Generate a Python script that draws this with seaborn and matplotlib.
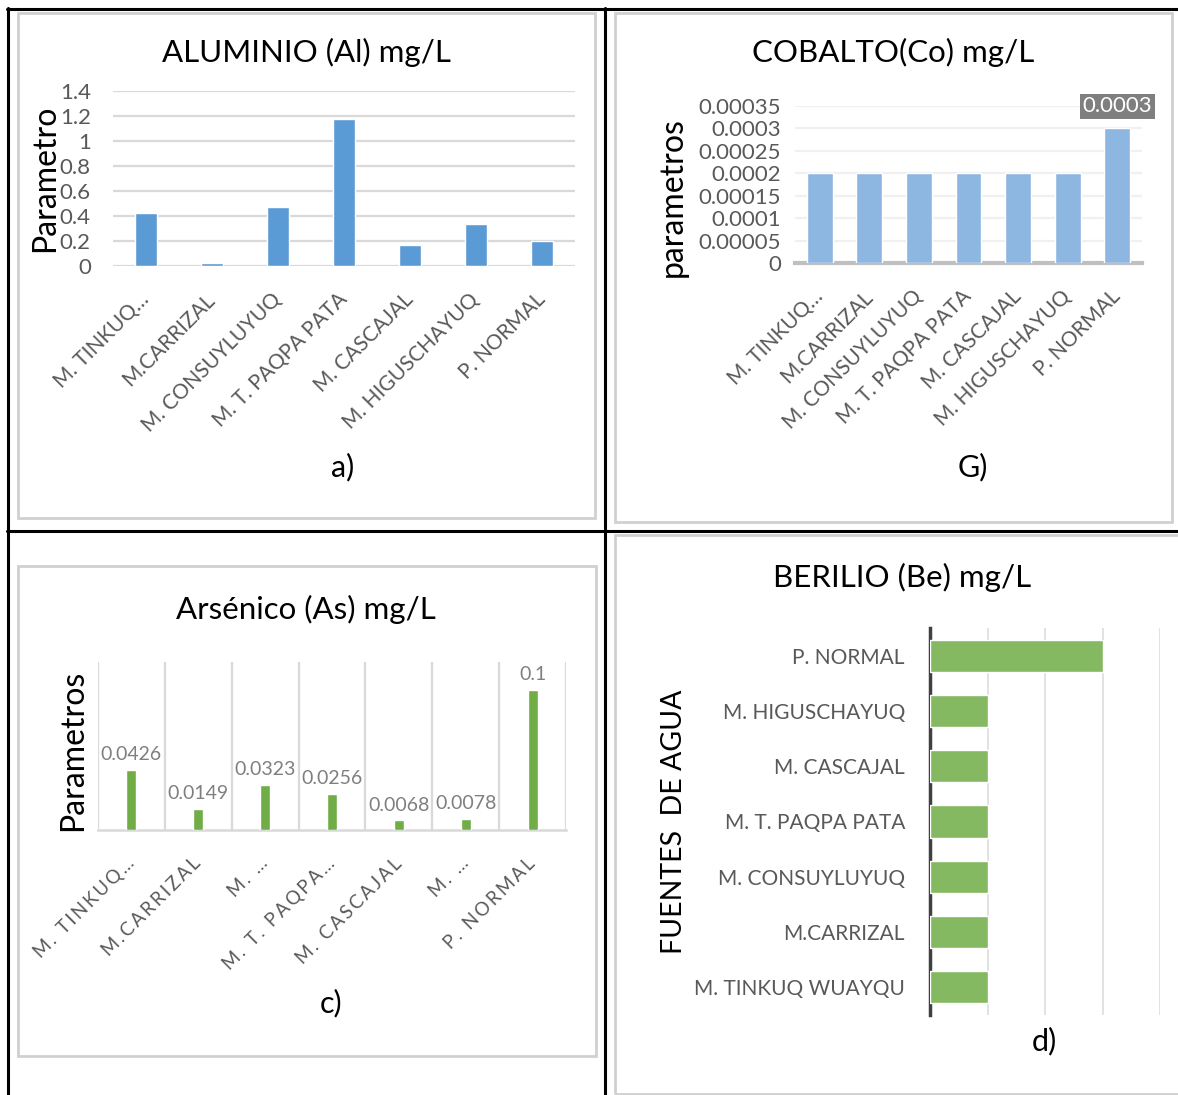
import matplotlib
matplotlib.use("Agg")
import matplotlib.pyplot as plt
from matplotlib.patches import Rectangle
from matplotlib.lines import Line2D
import seaborn as sns
import pandas as pd

# ---- data ----
sources_full = ["M. TINKUQ WUAYQU", "M.CARRIZAL", "M. CONSUYLUYUQ", "M. T. PAQPA PATA",
                "M. CASCAJAL", "M. HIGUSCHAYUQ", "P. NORMAL"]
labels_al_co = ["M. TINKUQ…", "M.CARRIZAL", "M. CONSUYLUYUQ", "M. T. PAQPA PATA",
                "M. CASCAJAL", "M. HIGUSCHAYUQ", "P. NORMAL"]
labels_as = ["M. TINKUQ…", "M.CARRIZAL", "M. …", "M. T. PAQPA…",
             "M. CASCAJAL", "M. …", "P. NORMAL"]

al_vals = [0.426, 0.022, 0.468, 1.174, 0.167, 0.334, 0.2]
co_vals = [0.0002, 0.0002, 0.0002, 0.0002, 0.0002, 0.0002, 0.0003]
as_vals = [0.0426, 0.0149, 0.0323, 0.0256, 0.0068, 0.0078, 0.1]
be_vals = [0.0001, 0.0001, 0.0001, 0.0001, 0.0001, 0.0001, 0.0003]

al_ticks = [0, 0.2, 0.4, 0.6, 0.8, 1, 1.2, 1.4]
co_ticks = [0, 0.00005, 0.0001, 0.00015, 0.0002, 0.00025, 0.0003, 0.00035]
co_tick_labels = ["0", "0.00005", "0.0001", "0.00015", "0.0002", "0.00025", "0.0003", "0.00035"]
be_ticks = [0, 0.0001, 0.0002, 0.0003, 0.0004]

sns.set_theme(style="white")
plt.rcParams["font.family"] = ["Lato", "DejaVu Sans"]

W, H = 1178, 1095
fig = plt.figure(figsize=(W / 100, H / 100), dpi=100)
fig.patch.set_facecolor("white")

GRAY_TXT = "#595959"
GRID = "#D9D9D9"
TITLE_FS = 22.5
YLAB_FS = 23


def px_axes(x0, y0, x1, y1):
    return fig.add_axes([x0 / W, 1 - y1 / H, (x1 - x0) / W, (y1 - y0) / H])


def px_text(x, y, s, **kw):
    fig.text(x / W, 1 - y / H, s, **kw)


def frame(x0, y0, x1, y1):
    fig.add_artist(Rectangle((x0 / W, 1 - y1 / H), (x1 - x0) / W, (y1 - y0) / H,
                             transform=fig.transFigure, fill=False,
                             edgecolor="#D0D0D0", lw=2.0))


def hline(y, x0, x1):
    fig.add_artist(Line2D([x0 / W, x1 / W], [1 - y / H, 1 - y / H],
                          transform=fig.transFigure, color="black", lw=2.2))


def vline(x, y0, y1):
    fig.add_artist(Line2D([x / W, x / W], [1 - y0 / H, 1 - y1 / H],
                          transform=fig.transFigure, color="black", lw=2.2))


def spaced(s):
    return "\u2009".join(s)


def set_ylabel(ax, text, x, y, size=YLAB_FS):
    ax.set_ylabel(text, fontsize=size, color="black")
    ax.yaxis.label.set_verticalalignment("center")
    ax.yaxis.set_label_coords(x, y)


def rotate_xlabels(ax):
    plt.setp(ax.get_xticklabels(), rotation=45, ha="right", va="center",
             rotation_mode="anchor")


# ---- table grid and chart frames ----
hline(9, 7, W)
hline(531, 7, W)
vline(8, 8, H)
vline(605, 8, H)

frame(18, 13, 595, 518)
frame(615, 13, 1172, 522)
frame(18, 566, 596, 1056)
frame(615, 535, 1185, 1094)

# ---- a) Aluminio ----
df_al = pd.DataFrame({"fuente": sources_full, "valor": al_vals})
ax = px_axes(113, 91, 575, 266)
sns.barplot(data=df_al, x="fuente", y="valor", color="#5B9BD5", saturation=1,
            width=0.34, errorbar=None, ax=ax, zorder=3)
ax.set_ylim(0, 1.4)
ax.set_yticks(al_ticks)
ax.set_yticklabels([f"{t:g}" for t in al_ticks])
ax.yaxis.grid(True, color=GRID, lw=1.6, zorder=0)
for s in ax.spines.values():
    s.set_visible(False)
ax.tick_params(axis="y", length=0, pad=16, labelsize=16, labelcolor=GRAY_TXT)
ax.tick_params(axis="x", length=0, pad=22, labelsize=15, labelcolor=GRAY_TXT)
ax.set_xticks(range(len(labels_al_co)))
ax.set_xticklabels(labels_al_co)
rotate_xlabels(ax)
ax.set_xlabel("")
set_ylabel(ax, "Parametro", -0.147, 0.5)
px_text(306, 52, "ALUMINIO (Al) mg/L", fontsize=TITLE_FS, ha="center", va="center", color="black")
px_text(343, 467, "a)", fontsize=22, ha="center", va="center", color="black")

# ---- G) Cobalto ----
df_co = pd.DataFrame({"fuente": sources_full, "valor": co_vals})
ax = px_axes(795, 106, 1142, 263)
sns.barplot(data=df_co, x="fuente", y="valor", color="#8DB6E1", saturation=1,
            width=0.52, errorbar=None, ax=ax, zorder=3)
ax.set_ylim(0, 0.00035)
ax.set_yticks(co_ticks)
ax.set_yticklabels(co_tick_labels)
ax.yaxis.grid(True, color="#F0F0F0", lw=1.6, zorder=0)
for name, s in ax.spines.items():
    s.set_visible(name == "bottom")
ax.spines["bottom"].set_color("#BFBFBF")
ax.spines["bottom"].set_linewidth(3)
ax.tick_params(axis="y", length=0, pad=10, labelsize=16, labelcolor=GRAY_TXT)
ax.tick_params(axis="x", length=0, pad=22, labelsize=15, labelcolor=GRAY_TXT)
ax.set_xticks(range(len(labels_al_co)))
ax.set_xticklabels(labels_al_co)
rotate_xlabels(ax)
ax.set_xlabel("")
set_ylabel(ax, "parametros", -0.352, 0.42)
ax.annotate(f"{co_vals[-1]:g}", xy=(6, co_vals[-1]), xytext=(0, 16),
            textcoords="offset points", ha="center", va="center",
            fontsize=16, color="white",
            bbox=dict(boxstyle="square,pad=0.12", fc="#7F7F7F", ec="none"),
            annotation_clip=False)
px_text(893, 52, "COBALTO(Co) mg/L", fontsize=TITLE_FS, ha="center", va="center", color="black")
px_text(973, 467, "G)", fontsize=22, ha="center", va="center", color="black")

# ---- c) Arsénico ----
df_as = pd.DataFrame({"fuente": sources_full, "valor": as_vals})
ax = px_axes(98, 662, 566, 830)
sns.barplot(data=df_as, x="fuente", y="valor", color="#70AD47", saturation=1,
            width=0.15, errorbar=None, ax=ax, zorder=3)
ax.set_ylim(0, 0.12)
ax.set_xlim(-0.5, 6.5)
ax.set_yticks([])
for xb in [i + 0.5 for i in range(-1, 7)]:
    ax.axvline(xb, color=GRID, lw=1.6, zorder=0)
for name, s in ax.spines.items():
    s.set_visible(name == "bottom")
ax.spines["bottom"].set_color(GRID)
ax.spines["bottom"].set_linewidth(1.8)
for i, v in enumerate(as_vals):
    ax.annotate(f"{v:g}", xy=(i, v), xytext=(0, 5), textcoords="offset points",
                ha="center", va="bottom", fontsize=14, color="#7F7F7F")
ax.tick_params(axis="x", length=0, pad=22, labelsize=13.5, labelcolor=GRAY_TXT)
ax.set_xticks(range(len(labels_as)))
ax.set_xticklabels([spaced(s) for s in labels_as])
rotate_xlabels(ax)
ax.set_xlabel("")
set_ylabel(ax, "Parametros", -0.053, 0.476)
px_text(306, 609, "Arsénico (As) mg/L", fontsize=TITLE_FS, ha="center", va="center", color="black")
px_text(331, 1003, "c)", fontsize=22, ha="center", va="center", color="black")

# ---- d) Berilio ----
df_be = pd.DataFrame({"fuente": sources_full, "valor": be_vals})
ax = px_axes(930, 628, 1160, 1015)
sns.barplot(data=df_be, y="fuente", x="valor", order=sources_full[::-1],
            orient="h", color="#84B962", saturation=1, width=0.58,
            errorbar=None, ax=ax, zorder=3)
ax.set_xlim(0, 0.0004)
ax.set_xticks(be_ticks)
ax.set_xticklabels([])
ax.xaxis.grid(True, color="#E2E2E2", lw=1.4, zorder=0)
for name, s in ax.spines.items():
    s.set_visible(name == "left")
ax.spines["left"].set_color("#404040")
ax.spines["left"].set_linewidth(2.5)
ax.tick_params(axis="x", length=0)
ax.tick_params(axis="y", length=0, pad=18, labelsize=15, labelcolor=GRAY_TXT)
ax.set_xlabel("")
set_ylabel(ax, "FUENTES  DE AGUA", -1.115, 0.5, size=20.5)
px_text(902, 577, "BERILIO (Be) mg/L", fontsize=TITLE_FS, ha="center", va="center", color="black")
px_text(1044, 1041, "d)", fontsize=22, ha="center", va="center", color="black")

fig.savefig("out.png", dpi=100, facecolor="white")
